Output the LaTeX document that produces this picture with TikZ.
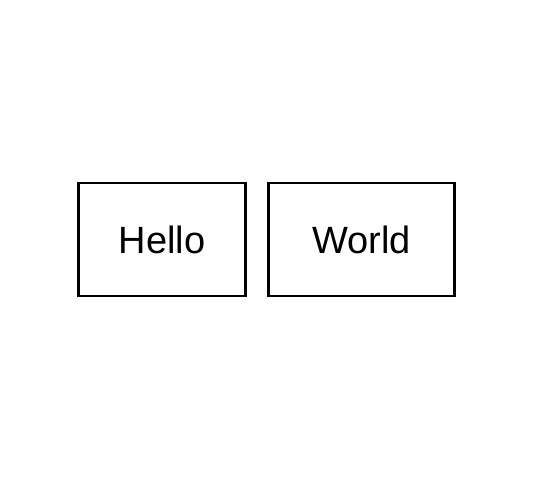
\documentclass[tikz,border=0pt]{standalone}
\usepackage{fontspec}
\setmainfont{Liberation Sans}
\begin{document}
\begin{tikzpicture}[x=1pt,y=-1pt,
  boxstyle/.style={draw=black,line width=2.8pt,minimum height=113pt,inner sep=0pt,font=\fontsize{38}{44}\selectfont,text=black}]
\useasboundingbox (0,0) rectangle (536,479);
\node[boxstyle,minimum width=167pt] (hello) at (162,239.5) {Hello};
\node[boxstyle,minimum width=186pt] (world) at (361.5,239.5) {World};
\end{tikzpicture}
\end{document}
